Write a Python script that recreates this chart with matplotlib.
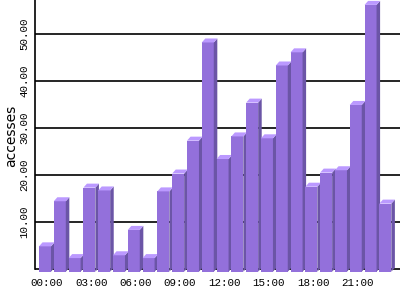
import matplotlib
matplotlib.use('Agg')
import matplotlib.pyplot as plt

hours = ['%02d:00' % h for h in range(24)]
accesses = [5.4, 15.0, 2.9, 17.9, 17.3, 3.5, 8.9, 2.9, 17.1, 20.9, 27.9, 48.8,
            24.0, 28.8, 36.0, 28.4, 43.9, 46.7, 18.1, 21.1, 21.6, 35.5, 56.8, 14.5]
y_ticks = [10, 20, 30, 40, 50]

front = '#9370db'
side = '#6b55a6'
top = '#bb99ff'

fig = plt.figure(figsize=(4, 3), dpi=100)
ax = fig.add_axes([35 / 400, 28 / 300, 365 / 400, 272 / 300])

width = 0.81
dx = 0.24   # depth in x units
dy = 0.85   # depth in value units
off = 0.64  # front face sits this much below the baseline

for i, v in enumerate(accesses):
    x0 = i - width / 2
    x1 = i + width / 2
    z = 3 + i
    ax.bar(i, v, width=width, bottom=-off, color=front, linewidth=0, zorder=z)
    ax.fill([x1, x1 + dx, x1 + dx, x1],
            [-off, -off + dy, v - off + dy, v - off],
            color=side, linewidth=0, zorder=z)
    ax.fill([x0, x0 + dx, x1 + dx, x1],
            [v - off, v - off + dy, v - off + dy, v - off],
            color=top, linewidth=0, zorder=z)

ax.set_xlim(-0.675, 23.99)
ax.set_ylim(-0.7, 57.2)

for t in [0] + y_ticks:
    ax.axhline(t, color='black', linewidth=1.2, zorder=1)

for s in ['top', 'right', 'bottom']:
    ax.spines[s].set_visible(False)
ax.spines['left'].set_bounds(0, 57.2)
ax.spines['left'].set_linewidth(1.2)

ax.set_xticks([i + 0.12 for i in range(0, 24, 3)])
ax.set_xticklabels(hours[::3], family='Liberation Mono', fontsize=7.8)
ax.set_yticks(y_ticks)
ax.set_yticklabels(['%.2f' % t for t in y_ticks], family='Liberation Mono',
                   fontsize=7.8, rotation=90, va='center')
ax.tick_params(length=0)
ax.tick_params(axis='x', pad=4)
ax.tick_params(axis='y', pad=4)

ax.set_ylabel('accesses', fontsize=10, labelpad=1)

fig.savefig('out.png', dpi=100)
